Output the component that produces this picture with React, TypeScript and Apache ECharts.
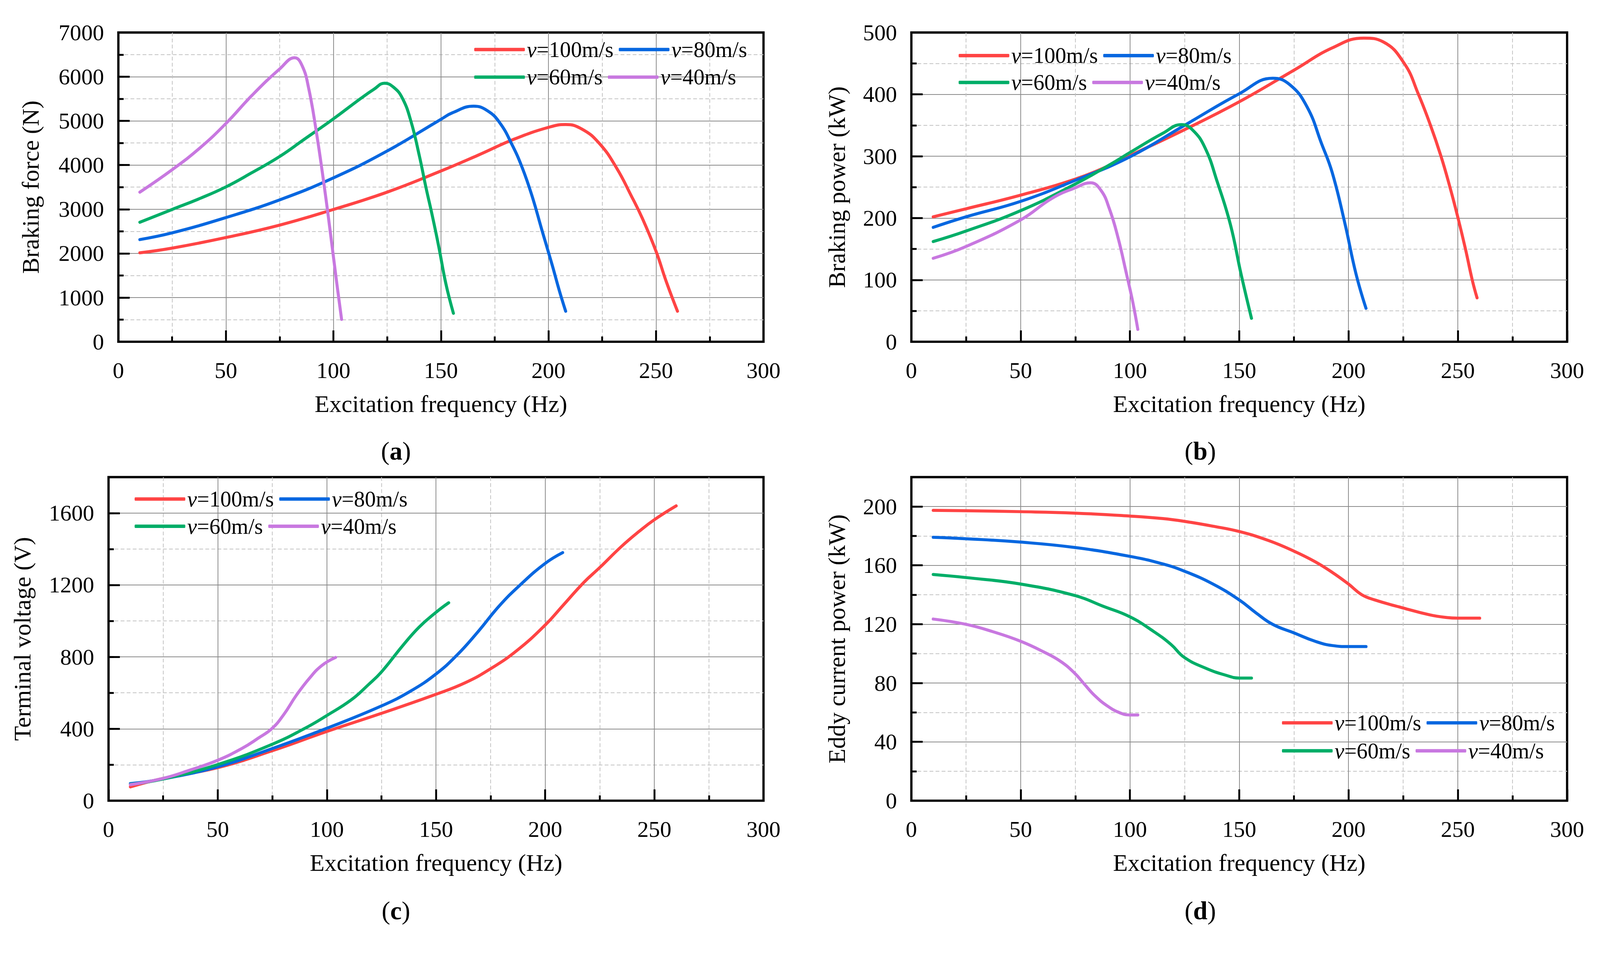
import React, { useEffect, useRef } from "react";
import * as echarts from "echarts";

const FONT = "Liberation Serif";
const BASE_W = 4231;
const BASE_H = 2466;

// ---------- data ----------
const seriesNames = ["v=100m/s", "v=80m/s", "v=60m/s", "v=40m/s"];
const seriesColors = ["#FF4444", "#0767E0", "#00AE68", "#C878E0"];

const xMin = 0;
const xMax = 300;
const xInterval = 50;
const xName = "Excitation frequency (Hz)";

const yNames = ["Braking force (N)", "Braking power (kW)", "Terminal voltage (V)", "Eddy current power (kW)"];
const yMaxes = [7000, 500, 1800, 220];
const yIntervals = [1000, 100, 400, 40];
const panelLetters = ["a", "b", "c", "d"];

// (a) braking force
const forceV100 = [[10, 2014], [25, 2120], [50, 2359], [75, 2641], [100, 2995], [125, 3387], [150, 3865], [167, 4217], [184, 4585], [200, 4853], [208, 4917], [215.5, 4816], [223.6, 4493], [231.6, 3940], [238.6, 3295], [243.6, 2800], [250, 2051], [254.8, 1359], [260, 691]];
const forceV80 = [[10, 2313], [25, 2465], [50, 2811], [75, 3212], [100, 3710], [125, 4318], [150, 5035], [155.4, 5184], [165.2, 5332], [171.6, 5230], [177.4, 4954], [183.2, 4447], [187.8, 3940], [192.4, 3295], [197, 2520], [201.6, 1760], [205.1, 1150], [208, 691]];
const forceV60 = [[10, 2705], [25, 2995], [38, 3245], [50, 3505], [62, 3825], [75, 4194], [86.5, 4585], [100, 5046], [112.7, 5507], [118.8, 5714], [123.8, 5853], [128, 5760], [132, 5520], [136, 5000], [140, 4200], [143, 3500], [146, 2850], [149, 2150], [152.3, 1313], [155.8, 645]];
const forceV40 = [[10, 3387], [25, 3894], [38, 4390], [50, 4940], [62, 5570], [75, 6175], [82, 6429], [85.5, 6244], [88.5, 5737], [92, 4770], [95.6, 3571], [98.6, 2465], [101.6, 1313], [103.8, 507]];

// (b) braking power
const powerV100 = [[10, 202], [25, 215], [50, 237], [75, 263], [90, 284], [100, 301], [125, 343], [150, 388], [175, 439], [192.5, 475], [207, 491], [215.8, 485], [225.5, 450], [232, 400], [237.5, 350], [242.3, 300], [246.4, 250], [250.1, 200], [253.5, 150], [256.6, 100], [258.8, 71]];
const powerV80 = [[10, 185], [25, 202], [50, 227], [75, 261], [100, 299], [125, 350], [150, 401], [165.3, 426], [173, 416], [181, 380], [187.7, 320], [192.5, 274], [198.3, 192], [203.4, 110], [208, 54]];
const powerV60 = [[10, 162], [25, 179], [50, 212], [75, 255], [91.6, 288], [100, 306], [115, 337], [123.6, 351], [128.5, 343], [134.3, 314], [140, 258], [146, 189], [150.8, 110], [155.6, 38]];
const powerV40 = [[10, 135], [25, 154], [50, 197], [64.4, 232], [75, 249], [82, 257], [86.7, 245], [90.6, 215], [94.5, 169], [98.4, 110], [101.3, 64], [103.6, 20]];

// (c) terminal voltage
const voltageV100 = [[10, 77], [25, 124], [50, 184], [75, 278], [100, 385], [125, 486], [150, 592], [163.5, 657], [175, 734], [187, 835], [200, 977], [208, 1084], [217.7, 1214], [225, 1297], [235, 1415], [243, 1498], [250, 1563], [260, 1640]];
const voltageV80 = [[10, 95], [25, 121], [50, 189], [75, 290], [100, 403], [125, 527], [138.4, 610], [150, 705], [159.7, 811], [169.3, 941], [179, 1084], [188.7, 1202], [200, 1320], [208, 1380]];
const voltageV60 = [[10, 91], [25, 121], [50, 201], [75, 314], [90, 403], [100, 474], [111.3, 562], [119, 645], [125, 716], [134.5, 859], [142.2, 965], [150, 1048], [155.8, 1101]];
const voltageV40 = [[10, 89], [25, 124], [37.7, 172], [50, 225], [61, 290], [68.7, 349], [75, 403], [80.3, 480], [86, 586], [92, 681], [97.7, 752], [104, 797]];

// (d) eddy current power
const eddyV100 = [[10, 197.4], [25, 197.1], [50, 196.5], [75, 195.5], [100, 193.5], [115, 191.8], [125, 189.9], [138, 186.6], [150, 183.0], [163.4, 176.9], [175, 169.7], [184.7, 162.5], [192.5, 155.3], [200, 147.3], [206, 140.1], [212, 136.5], [225, 131.0], [237, 126.4], [245, 124.5], [250, 124.1], [260, 124.1]];
const eddyV80 = [[10, 179.1], [25, 178.1], [50, 175.8], [75, 172.1], [100, 166.1], [115, 161.0], [125, 156.0], [138, 147.3], [150, 136.5], [157.6, 127.8], [165.3, 119.9], [175, 114.1], [184.7, 108.4], [192.5, 105.5], [200, 104.8], [208, 104.8]];
const eddyV60 = [[10, 153.8], [25, 151.7], [50, 147.3], [75, 139.4], [87.7, 132.2], [100, 125.0], [111, 114.9], [118.8, 106.2], [124.8, 97.5], [134.3, 90.3], [143.9, 85.3], [150, 83.4], [155.6, 83.4]];
const eddyV40 = [[10, 123.5], [25, 119.9], [37.3, 114.9], [50, 108.4], [60.5, 101.2], [68.3, 94.7], [74.7, 86.7], [79, 79.5], [83.8, 71.6], [89.7, 64.4], [95.5, 59.7], [100, 58.3], [103.6, 58.3]];

const panelData = [
  [forceV100, forceV80, forceV60, forceV40],
  [powerV100, powerV80, powerV60, powerV40],
  [voltageV100, voltageV80, voltageV60, voltageV40],
  [eddyV100, eddyV80, eddyV60, eddyV40],
];

// ---------- layout (in reference pixels, scaled to the viewport) ----------
const grids = [
  { left: 313, top: 86, width: 1706, height: 818 },
  { left: 2410, top: 86, width: 1734, height: 818 },
  { left: 287, top: 1262, width: 1732, height: 856 },
  { left: 2410, top: 1262, width: 1734, height: 856 },
];
const yNameGaps = [200, 165, 196, 165];
const legendLayout = [
  { left: 1254, row1: 131, row2: 204 },
  { left: 2535, row1: 147, row2: 218 },
  { left: 356, row1: 1320, row2: 1392 },
  { left: 3390, row1: 1912, row2: 1986 },
];
const captionPos = [
  [1047, 1193],
  [3174, 1193],
  [1047, 2408],
  [3174, 2408],
];

const MAJOR = "#8a8a8a";
const MINOR = "#c4c4c4";

function buildOption(s: number) {
  const S = (v: number) => v * s;
  const TICK_FS = S(60);
  const NAME_FS = S(64);
  const LEG_FS = S(58);
  const dash = [S(10), S(6)];

  const xAxis: any[] = [];
  const yAxis: any[] = [];
  const series: any[] = [];
  const legend: any[] = [];
  const graphic: any[] = [];

  grids.forEach((g, p) => {
    xAxis.push({
      gridIndex: p,
      type: "value",
      min: xMin,
      max: xMax,
      interval: xInterval,
      name: xName,
      nameLocation: "middle",
      nameGap: S(132),
      nameTextStyle: { fontFamily: FONT, fontSize: NAME_FS, color: "#000" },
      axisLine: { show: false },
      axisTick: { show: true, inside: true, length: S(30), lineStyle: { color: "#000", width: S(5) } },
      minorTick: { show: true, splitNumber: 2, length: S(14), lineStyle: { color: "#000", width: S(5) } },
      axisLabel: { fontFamily: FONT, fontSize: TICK_FS, color: "#000", margin: S(46), formatter: (v: number) => String(v) },
      splitLine: { show: true, showMinLine: false, showMaxLine: false, lineStyle: { color: MAJOR, width: S(2) } },
      minorSplitLine: { show: true, lineStyle: { color: MINOR, width: S(2), type: dash } },
    });
    // minor y axis (dashed lines + short ticks)
    yAxis.push({
      gridIndex: p,
      type: "value",
      position: "left",
      min: 0,
      max: yMaxes[p],
      interval: yIntervals[p] / 2,
      axisLine: { show: false },
      axisTick: { show: true, inside: true, length: S(14), lineStyle: { color: "#000", width: S(5) } },
      axisLabel: { show: false },
      splitLine: { show: true, showMinLine: false, showMaxLine: false, lineStyle: { color: MINOR, width: S(2), type: dash } },
    });
    // major y axis
    yAxis.push({
      gridIndex: p,
      type: "value",
      position: "left",
      min: 0,
      max: yMaxes[p],
      interval: yIntervals[p],
      name: yNames[p],
      nameLocation: "middle",
      nameGap: S(yNameGaps[p]),
      nameTextStyle: { fontFamily: FONT, fontSize: NAME_FS, color: "#000" },
      axisLine: { show: false },
      axisTick: { show: true, inside: true, length: S(30), lineStyle: { color: "#000", width: S(5) } },
      axisLabel: {
        fontFamily: FONT,
        fontSize: TICK_FS,
        color: "#000",
        margin: S(38),
        showMaxLabel: yMaxes[p] % yIntervals[p] === 0,
        formatter: (v: number) => String(v),
      },
      splitLine: { show: true, showMinLine: false, showMaxLine: false, lineStyle: { color: MAJOR, width: S(2) } },
    });

    panelData[p].forEach((d, i) => {
      series.push({
        type: "line",
        name: seriesNames[i],
        xAxisIndex: p,
        yAxisIndex: 2 * p + 1,
        data: d,
        smooth: 0.45,
        symbol: "none",
        lineStyle: { color: seriesColors[i], width: S(8), cap: "round", join: "round" },
        itemStyle: { color: seriesColors[i] },
        z: 3,
      });
    });

    const L = legendLayout[p];
    const legendBase = {
      orient: "horizontal",
      left: S(L.left),
      padding: 0,
      itemGap: S(14),
      itemWidth: S(134),
      itemHeight: S(9),
      icon: "roundRect",
      selectedMode: false,
      formatter: (name: string) => `{i|v}{n|${name.slice(1)}}`,
      textStyle: {
        fontFamily: FONT,
        fontSize: LEG_FS,
        color: "#000",
        lineHeight: LEG_FS,
        rich: {
          i: { fontFamily: FONT, fontSize: LEG_FS, fontStyle: "italic", color: "#000", lineHeight: LEG_FS },
          n: { fontFamily: FONT, fontSize: LEG_FS, color: "#000", lineHeight: LEG_FS },
        },
      },
    };
    legend.push({ ...legendBase, top: S(L.row1) - LEG_FS / 2, data: [seriesNames[0], seriesNames[1]] });
    legend.push({ ...legendBase, top: S(L.row2) - LEG_FS / 2, data: [seriesNames[2], seriesNames[3]] });

    graphic.push({
      type: "text",
      x: S(captionPos[p][0]),
      y: S(captionPos[p][1]),
      style: {
        text: `{n|(}{b|${panelLetters[p]}}{n|)}`,
        align: "center",
        verticalAlign: "middle",
        fill: "#000",
        rich: {
          n: { fontFamily: FONT, fontSize: S(68), fill: "#000" },
          b: { fontFamily: FONT, fontSize: S(68), fontWeight: "bold", fill: "#000" },
        },
      },
    });
  });

  return {
    animation: false,
    backgroundColor: "#ffffff",
    grid: grids.map((g) => ({
      left: S(g.left),
      top: S(g.top),
      width: S(g.width),
      height: S(g.height),
      show: true,
      borderColor: "#000",
      borderWidth: S(6),
      backgroundColor: "transparent",
    })),
    xAxis,
    yAxis,
    legend,
    series,
    graphic,
  };
}

export default function App() {
  const ref = useRef<HTMLDivElement>(null);
  useEffect(() => {
    document.documentElement.style.overflow = "hidden";
    document.body.style.margin = "0";
    document.body.style.overflow = "hidden";
    const w = document.documentElement.clientWidth || window.innerWidth || BASE_W;
    const h = document.documentElement.clientHeight || window.innerHeight || BASE_H;
    const s = Math.min(w / BASE_W, h / BASE_H);
    const el = ref.current as HTMLDivElement;
    el.style.width = `${w}px`;
    el.style.height = `${h}px`;
    const chart = echarts.init(el, null, { renderer: "svg", width: w, height: h });
    chart.setOption(buildOption(s) as any);
    return () => chart.dispose();
  }, []);
  return (
    <div
      ref={ref}
      style={{ position: "absolute", left: 0, top: 0, width: "100vw", height: "100vh", background: "#fff" }}
    />
  );
}
